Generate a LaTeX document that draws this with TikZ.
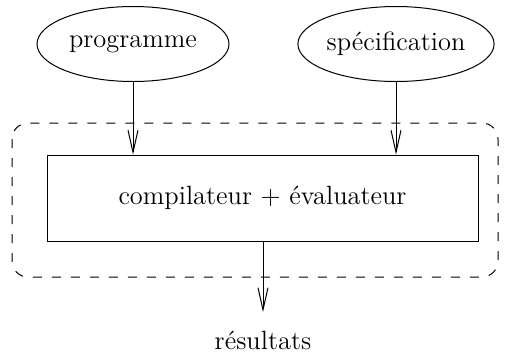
\documentclass[tikz,border=0pt]{standalone}
\usetikzlibrary{shapes.geometric,arrows.meta}
\begin{document}
\begin{tikzpicture}[x=0.5pt,y=-0.5pt,
  every node/.style={font=\fontsize{13.2pt}{15pt}\selectfont, inner sep=0pt},
  oval/.style={draw, ellipse, line width=0.5pt, minimum width=96pt, minimum height=37.5pt},
  procbox/.style={draw, rectangle, line width=0.5pt, minimum width=215.5pt, minimum height=43pt},
  frame/.style={draw, line width=0.5pt, dash pattern=on 4.5pt off 5pt, rounded corners=8pt},
  flow/.style={line width=0.5pt, -{Straight Barb[length=11pt,width=5pt,line width=0.5pt]}}]
  \useasboundingbox (0,0) rectangle (510,355);
  % outer dashed frame
  \draw[frame] (12,123) rectangle (498,277);
  % inputs
  \node[oval] (prog) at (133,44) {programme};
  \node[oval] (spec) at (396,44) {spécification};
  % processing box
  \node[procbox] (comp) at (262.5,198) {compilateur + évaluateur};
  % output
  \node (res) at (263,340) {résultats};
  \coordinate (resin) at (263,312);
  % connectors
  \draw[flow] (prog.south) -- (prog.south |- comp.north);
  \draw[flow] (spec.south) -- (spec.south |- comp.north);
  \draw[flow] (comp.south -| resin) -- (resin);
\end{tikzpicture}
\end{document}
